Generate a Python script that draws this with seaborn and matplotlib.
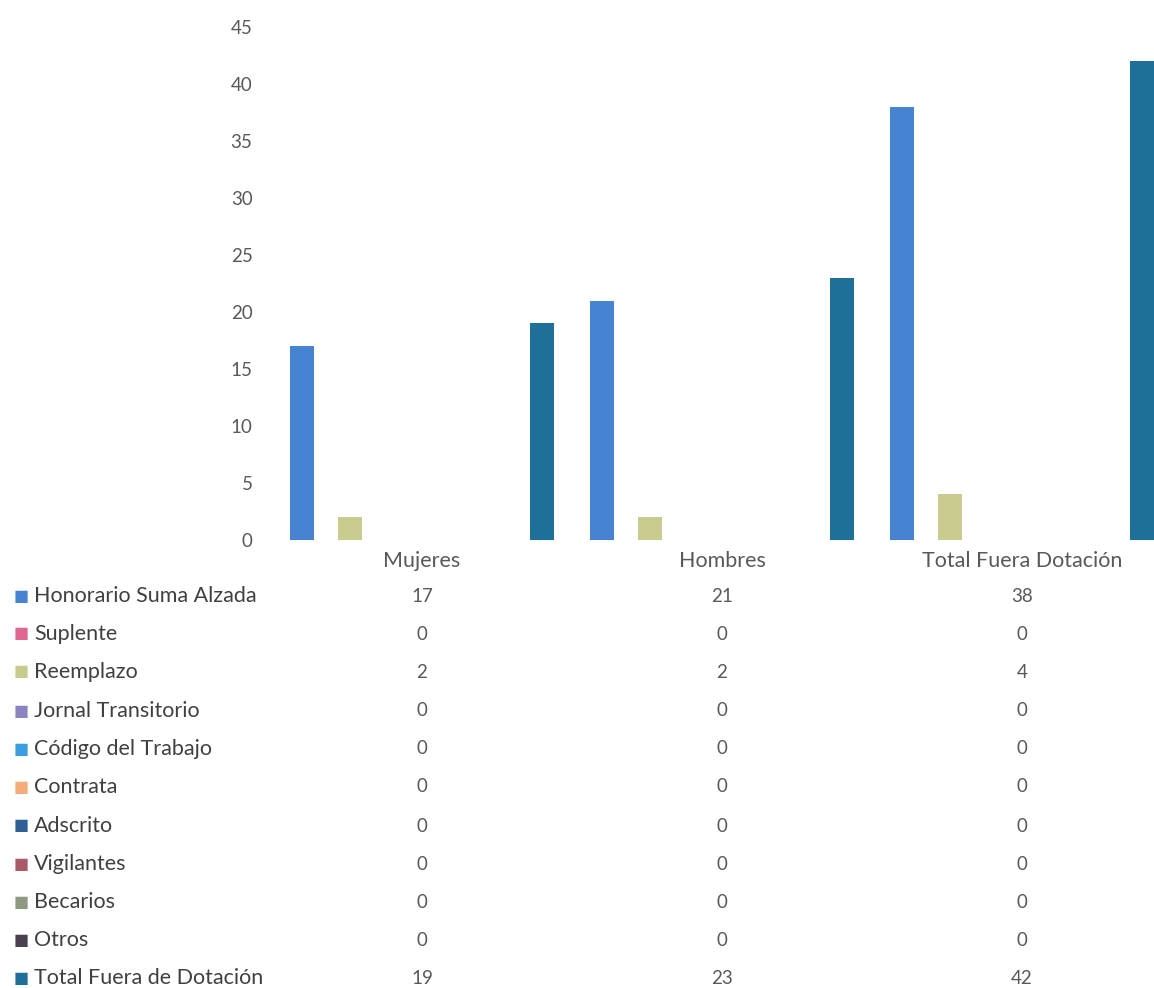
import numpy as np
import pandas as pd
import matplotlib
matplotlib.use("Agg")
import matplotlib.pyplot as plt
import seaborn as sns

sns.set_theme(style="white")
plt.rcParams['font.family'] = ['Lato', 'DejaVu Sans']

categories = ["Mujeres", "Hombres", "Total Fuera Dotación"]
series = ["Honorario Suma Alzada", "Suplente", "Reemplazo", "Jornal Transitorio",
          "Código del Trabajo", "Contrata", "Adscrito", "Vigilantes", "Becarios",
          "Otros", "Total Fuera de Dotación"]
honorario = [17, 21, 38]
suplente = [0, 0, 0]
reemplazo = [2, 2, 4]
jornal = [0, 0, 0]
codigo = [0, 0, 0]
contrata = [0, 0, 0]
adscrito = [0, 0, 0]
vigilantes = [0, 0, 0]
becarios = [0, 0, 0]
otros = [0, 0, 0]
total = [19, 23, 42]
values = [honorario, suplente, reemplazo, jornal, codigo, contrata,
          adscrito, vigilantes, becarios, otros, total]

colors = ["#4683d0", "#e0678f", "#c8cb8d", "#8a84bf", "#3d9be0", "#f5ad78",
          "#2f5f94", "#a85a68", "#8f9880", "#4a4050", "#1e6f9a"]
palette = dict(zip(series, colors))

df = pd.DataFrame([(c, s, v[i]) for s, v in zip(series, values)
                   for i, c in enumerate(categories)],
                  columns=["cat", "serie", "valor"])

W, H = 1154, 988
fig = plt.figure(figsize=(W / 100, H / 100), dpi=100)
# plot area runs a little past the right edge like the cropped original
ax = fig.add_axes([272 / W, (H - 540) / H, 900 / W, 513 / H])

sns.barplot(data=df, x="cat", y="valor", hue="serie", order=categories,
            hue_order=series, palette=palette, width=0.88, linewidth=0,
            saturation=1, legend=False, ax=ax)

ax.set_ylim(0, 45)
ax.set_xlim(-0.5, 2.5)
ax.set_yticks(range(0, 46, 5))
ax.set_xlabel("")
ax.set_ylabel("")
for sp in ax.spines.values():
    sp.set_visible(False)
ax.tick_params(axis="y", length=0, pad=14, labelsize=13.5, labelcolor="#595959")
ax.tick_params(axis="x", length=0, pad=8, labelsize=15.5, labelcolor="#595959")

# data table below the chart
trans = ax.get_xaxis_transform()
row_y = [596, 634, 672, 711, 749, 787, 826, 864, 902, 940, 978]
for s, v, col, yp in zip(series, values, colors, row_y):
    fy = 1 - yp / H
    fig.text(14 / W, fy, "■", color=col, fontsize=11.5, va="center", ha="left",
             family="DejaVu Sans")
    fig.text(34 / W, fy, s, color="#404040", fontsize=15.5, va="center", ha="left")
    ay = (540 - yp) / 513
    for i, val in enumerate(v):
        ax.text(i, ay, str(val), transform=trans, color="#595959", fontsize=13.5,
                ha="center", va="center", clip_on=False)

fig.savefig("out.png", dpi=100)
